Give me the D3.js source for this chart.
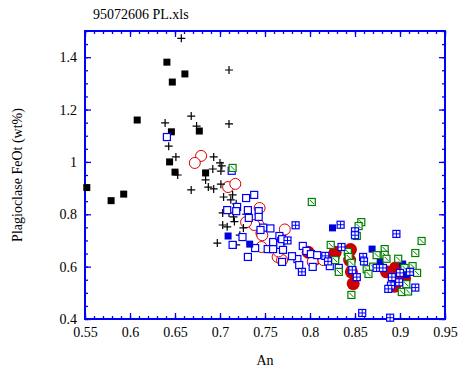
<!DOCTYPE html>
<html>
<head>
<meta charset="utf-8">
<script src="https://cdn.jsdelivr.net/npm/d3@7"></script>
<style>
  body { margin: 0; background: #fff; }
  text { font-family: "Liberation Serif", "Times New Roman", serif; }
</style>
</head>
<body>
<svg id="chart" width="467" height="372"></svg>
<script>
/*global d3*/

// data: [An, FeOt]
var blackSquares = [
    [0.552, 0.902], [0.579, 0.852], [0.593, 0.877], [0.608, 1.16], [0.641, 1.381],
    [0.661, 1.336], [0.647, 1.305], [0.646, 1.115], [0.677, 1.118], [0.644, 1.0],
    [0.65, 0.961], [0.684, 0.958]
];
var plusPoints = [
    [0.657, 1.472], [0.71, 1.351], [0.668, 1.175], [0.674, 1.137], [0.639, 1.149],
    [0.71, 1.145], [0.643, 1.06], [0.651, 1.019], [0.693, 1.019], [0.70, 0.996],
    [0.702, 0.985], [0.692, 0.973], [0.701, 0.965], [0.653, 0.95], [0.684, 0.931],
    [0.687, 0.904], [0.693, 0.897], [0.701, 0.915], [0.668, 0.893], [0.704, 0.866],
    [0.714, 0.874], [0.712, 0.855], [0.718, 0.84], [0.703, 0.805], [0.71, 0.805],
    [0.716, 0.772], [0.703, 0.759], [0.708, 0.752], [0.726, 0.748], [0.697, 0.69],
    [0.718, 0.683], [0.722, 0.72], [0.729, 0.80], [0.715, 0.79]
];
var blueOpen = [
    [0.641, 1.095], [0.713, 0.966], [0.729, 0.862], [0.738, 0.874], [0.708, 0.816],
    [0.719, 0.828], [0.718, 0.812], [0.731, 0.816], [0.743, 0.812], [0.732, 0.786],
    [0.743, 0.79], [0.748, 0.749], [0.756, 0.746], [0.725, 0.713], [0.714, 0.683],
    [0.739, 0.671], [0.753, 0.667], [0.759, 0.667], [0.759, 0.694], [0.766, 0.717],
    [0.768, 0.698], [0.767, 0.683], [0.731, 0.637], [0.769, 0.618], [0.786, 0.629],
    [0.788, 0.606], [0.792, 0.679], [0.796, 0.66], [0.801, 0.648], [0.808, 0.644],
    [0.803, 0.599], [0.822, 0.602], [0.832, 0.595], [0.77, 0.664], [0.78, 0.64],
    [0.769, 0.705], [0.745, 0.74]
];
var redOpen = [
    [0.679, 1.023], [0.672, 0.996], [0.709, 0.904], [0.717, 0.916], [0.744, 0.824],
    [0.743, 0.759], [0.738, 0.759], [0.729, 0.77], [0.746, 0.728], [0.747, 0.72],
    [0.746, 0.675], [0.772, 0.742], [0.764, 0.637], [0.769, 0.625], [0.765, 0.658],
    [0.803, 0.618], [0.815, 0.625]
];
var redFilled = [
    [0.798, 0.655], [0.806, 0.63], [0.826, 0.64], [0.828, 0.655], [0.845, 0.665],
    [0.844, 0.625], [0.846, 0.58], [0.848, 0.535], [0.895, 0.595], [0.898, 0.56],
    [0.894, 0.525], [0.905, 0.555], [0.902, 0.575], [0.885, 0.58]
];
var blueFilled = [
    [0.709, 0.717], [0.733, 0.686], [0.825, 0.748], [0.869, 0.667], [0.878, 0.62],
    [0.903, 0.61], [0.907, 0.57]
];
var greenDiag = [
    [0.714, 0.977], [0.802, 0.847], [0.857, 0.77], [0.854, 0.755], [0.852, 0.717],
    [0.924, 0.698], [0.917, 0.652], [0.823, 0.683], [0.842, 0.656], [0.843, 0.637],
    [0.828, 0.625], [0.832, 0.58], [0.846, 0.614], [0.863, 0.59], [0.865, 0.572],
    [0.874, 0.644], [0.883, 0.667], [0.883, 0.645], [0.885, 0.63], [0.898, 0.63],
    [0.914, 0.602], [0.919, 0.576], [0.911, 0.58], [0.905, 0.595], [0.907, 0.533],
    [0.902, 0.503], [0.909, 0.505], [0.846, 0.492], [0.87, 0.60]
];
var blueCross = [
    [0.784, 0.758], [0.791, 0.58], [0.834, 0.76], [0.85, 0.735], [0.85, 0.72],
    [0.896, 0.725], [0.835, 0.675], [0.817, 0.641], [0.82, 0.62], [0.859, 0.637],
    [0.86, 0.62], [0.847, 0.587], [0.852, 0.56], [0.874, 0.595], [0.881, 0.595],
    [0.891, 0.56], [0.89, 0.528], [0.887, 0.515], [0.90, 0.576], [0.899, 0.54],
    [0.911, 0.58], [0.917, 0.52], [0.858, 0.423], [0.889, 0.405], [0.775, 0.70]
];

var xMajor = [0.55, 0.6, 0.65, 0.7, 0.75, 0.8, 0.85, 0.9, 0.95];
var yMajor = [0.4, 0.6, 0.8, 1.0, 1.2, 1.4];
var xMinor = d3.range(55, 96).map(function (d) { return d / 100; });
var yMinor = d3.range(8, 31).map(function (d) { return d / 20; });

var titleText = "95072606 PL.xls";
var xTitle = "An";
var yTitle = "Plagioclase FeOt (wt%)";

(function () {
    var svg = d3.select("#chart");
    var plotLeft = 85, plotRight = 445, plotTop = 31, plotBottom = 319;
    var axisColor = "#0000ff";

    var x = d3.scaleLinear().domain([0.55, 0.95]).range([plotLeft, plotRight]);
    var y = d3.scaleLinear().domain([0.4, 1.5]).range([plotBottom, plotTop]);
    var fmt = function (d) { return d3.format("~g")(+d.toFixed(2)); };

    function styleAxis(g) {
        g.select(".domain").remove();
        g.selectAll(".tick line").attr("stroke", axisColor).attr("stroke-width", 1.3);
        g.selectAll(".tick text").attr("fill", "#000")
            .style("font-size", "14px").style("font-family", "'Liberation Serif', serif");
    }

    // minor ticks on all four sides
    svg.append("g").attr("transform", "translate(0," + plotBottom + ")")
        .call(d3.axisBottom(x).tickValues(xMinor).tickSize(-3).tickFormat("")).call(styleAxis);
    svg.append("g").attr("transform", "translate(0," + plotTop + ")")
        .call(d3.axisTop(x).tickValues(xMinor).tickSize(-3).tickFormat("")).call(styleAxis);
    svg.append("g").attr("transform", "translate(" + plotLeft + ",0)")
        .call(d3.axisLeft(y).tickValues(yMinor).tickSize(-3).tickFormat("")).call(styleAxis);
    svg.append("g").attr("transform", "translate(" + plotRight + ",0)")
        .call(d3.axisRight(y).tickValues(yMinor).tickSize(-3).tickFormat("")).call(styleAxis);

    // major ticks + labels
    svg.append("g").attr("transform", "translate(0," + plotBottom + ")")
        .call(d3.axisBottom(x).tickValues(xMajor).tickSize(-6).tickPadding(8).tickFormat(fmt)).call(styleAxis);
    svg.append("g").attr("transform", "translate(0," + plotTop + ")")
        .call(d3.axisTop(x).tickValues(xMajor).tickSize(-6).tickFormat("")).call(styleAxis);
    svg.append("g").attr("transform", "translate(" + plotLeft + ",0)")
        .call(d3.axisLeft(y).tickValues(yMajor).tickSize(-6).tickPadding(8).tickFormat(fmt)).call(styleAxis);
    svg.append("g").attr("transform", "translate(" + plotRight + ",0)")
        .call(d3.axisRight(y).tickValues(yMajor).tickSize(-6).tickFormat("")).call(styleAxis);

    svg.append("rect")
        .attr("x", plotLeft).attr("y", plotTop)
        .attr("width", plotRight - plotLeft).attr("height", plotBottom - plotTop)
        .attr("fill", "none").attr("stroke", axisColor).attr("stroke-width", 2);

    var plot = svg.append("g");
    function pos(d) { return "translate(" + x(d[0]) + "," + y(d[1]) + ")"; }

    // red filled circles (behind)
    plot.selectAll(".rf").data(redFilled).enter().append("circle")
        .attr("transform", pos).attr("r", 6.5).attr("fill", "#cc0000");

    plot.selectAll(".ro").data(redOpen).enter().append("circle")
        .attr("transform", pos).attr("r", 5.5)
        .attr("fill", "#fff").attr("stroke", "#dd0000").attr("stroke-width", 1);

    plot.selectAll(".bs").data(blackSquares).enter().append("rect")
        .attr("transform", pos).attr("x", -3.5).attr("y", -3.5)
        .attr("width", 7).attr("height", 7).attr("fill", "#000");

    plot.selectAll(".pl").data(plusPoints).enter().append("path")
        .attr("transform", pos)
        .attr("d", "M-4,0H4M0,-4V4").attr("stroke", "#000").attr("stroke-width", 1.2);

    plot.selectAll(".bo").data(blueOpen).enter().append("rect")
        .attr("transform", pos).attr("x", -3.5).attr("y", -3.5)
        .attr("width", 7).attr("height", 7)
        .attr("fill", "#fff").attr("stroke", "#0000ff").attr("stroke-width", 1.2);

    plot.selectAll(".bf").data(blueFilled).enter().append("rect")
        .attr("transform", pos).attr("x", -3.5).attr("y", -3.5)
        .attr("width", 7).attr("height", 7).attr("fill", "#0000dd");

    var gd = plot.selectAll(".gd").data(greenDiag).enter().append("g").attr("transform", pos);
    gd.append("rect").attr("x", -3.5).attr("y", -3.5).attr("width", 7).attr("height", 7)
        .attr("fill", "#fff").attr("stroke", "#008000").attr("stroke-width", 1.2);
    gd.append("path").attr("d", "M-2,-2L2,2").attr("stroke", "#008000").attr("stroke-width", 1);

    var bc = plot.selectAll(".bc").data(blueCross).enter().append("g").attr("transform", pos);
    bc.append("rect").attr("x", -3.5).attr("y", -3.5).attr("width", 7).attr("height", 7)
        .attr("fill", "#fff").attr("stroke", "#0000ff").attr("stroke-width", 1.2);
    bc.append("path").attr("d", "M-3.5,0H3.5M0,-3.5V3.5").attr("stroke", "#0000ff").attr("stroke-width", 1);

    // titles
    svg.append("text").attr("x", 93).attr("y", 19).style("font-size", "14px").text(titleText);
    svg.append("text").attr("x", (plotLeft + plotRight) / 2).attr("y", 365)
        .attr("text-anchor", "middle").style("font-size", "14px").text(xTitle);
    svg.append("text")
        .attr("transform", "translate(22," + (plotTop + plotBottom) / 2 + ") rotate(-90)")
        .attr("text-anchor", "middle").style("font-size", "14px").text(yTitle);
})();
</script>
</body>
</html>
